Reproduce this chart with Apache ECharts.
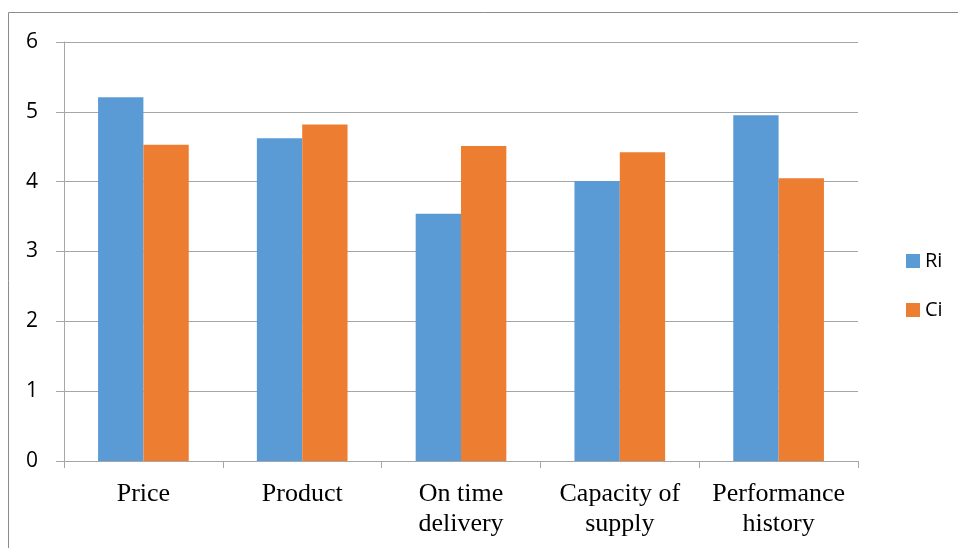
<!DOCTYPE html>
<html>
<head>
<meta charset="utf-8">
<script src="https://cdn.jsdelivr.net/npm/echarts@6/dist/echarts.min.js"></script>
<style>html,body{margin:0;padding:0;background:#fff}#c{width:958px;height:548px}</style>
</head>
<body>
<div id="c"></div>
<script>
const categories = ['Price', 'Product', 'On time\ndelivery', 'Capacity of\nsupply', 'Performance\nhistory'];
const riValues = [5.21, 4.62, 3.54, 4.01, 4.95];
const ciValues = [4.53, 4.82, 4.51, 4.42, 4.05];
const seriesNames = ['Ri', 'Ci'];

const chart = echarts.init(document.getElementById('c'), null, {renderer: 'canvas'});
chart.setOption({
  animation: false,
  backgroundColor: '#fff',
  graphic: [{
    type: 'rect', silent: true,
    shape: {x: 8.5, y: 12.5, width: 1000, height: 600},
    style: {fill: 'none', stroke: '#8c8c8c', lineWidth: 1}
  }],
  grid: {left: 64, right: 100, top: 42, bottom: 87, containLabel: false},
  legend: {
    orient: 'vertical', left: 901, top: 246, itemGap: 29,
    itemWidth: 14, itemHeight: 14, icon: 'rect',
    textStyle: {fontFamily: 'Open Sans', fontSize: 20, color: '#000', padding: [0, 0, 0, 0]},
    data: seriesNames
  },
  xAxis: {
    type: 'category', data: categories,
    axisLine: {lineStyle: {color: '#a6a6a6', width: 1}},
    axisTick: {show: true, length: 7, lineStyle: {color: '#a6a6a6'}},
    axisLabel: {fontFamily: 'Liberation Serif', fontSize: 26, color: '#000', margin: 18, lineHeight: 30, interval: 0}
  },
  yAxis: {
    type: 'value', min: 0, max: 6, interval: 1,
    axisLine: {show: true, lineStyle: {color: '#a6a6a6'}},
    axisTick: {show: true, length: 8, lineStyle: {color: '#a6a6a6'}},
    splitLine: {lineStyle: {color: '#a6a6a6', width: 1}},
    axisLabel: {fontFamily: 'Open Sans', fontSize: 21, color: '#000', margin: 26}
  },
  series: [
    {name: seriesNames[0], type: 'bar', data: riValues, barGap: '0%', barCategoryGap: '42.9%',
     itemStyle: {color: '#5B9BD5'}},
    {name: seriesNames[1], type: 'bar', data: ciValues, barGap: '0%', barCategoryGap: '42.9%',
     itemStyle: {color: '#ED7D31'}}
  ]
});
</script>
</body>
</html>
